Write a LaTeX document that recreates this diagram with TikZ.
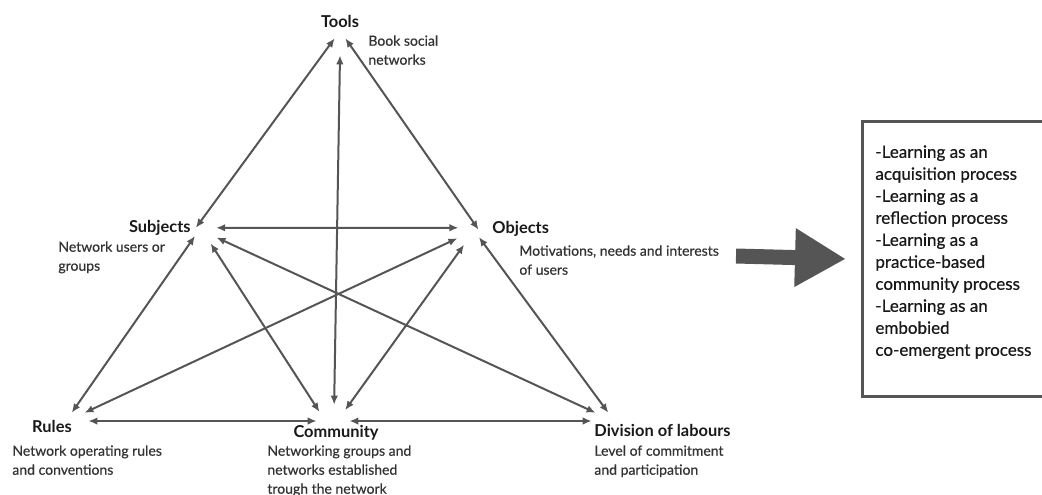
\documentclass[tikz,border=0pt]{standalone}
\usepackage{fontspec}
\setmainfont{Lato}
\newfontfamily\mediumfont{Lato}[FakeBold=0.6]
\usetikzlibrary{arrows.meta,positioning}
\definecolor{linkgray}{HTML}{555555}
\definecolor{notegray}{HTML}{333333}

\begin{document}
\begin{tikzpicture}[
    x=0.5pt, y=-0.5pt,
    hub/.style={circle, inner sep=0pt, minimum size=#1},
    title/.style={inner sep=0pt, font=\fontsize{8.2}{10}\selectfont\bfseries, text=black!90},
    note/.style={inner sep=0pt, anchor=north west, align=left, font=\fontsize{7}{9.5}\selectfont\mediumfont, text=notegray},
    connector/.style={{Latex[length=4.5pt,width=3.8pt]}-{Latex[length=4.5pt,width=3.8pt]}, line width=1pt, linkgray},
    push/.style={-{Triangle[length=25pt,width=29.5pt,line width=0pt]}, line width=7.5pt, linkgray},
    listbox/.style={inner sep=0pt, anchor=north west, minimum width=100pt, minimum height=137.5pt},
    frame/.style={draw=linkgray, line width=1.5pt},
    listtext/.style={inner sep=0pt, anchor=north west, align=left, font=\fontsize{8.5}{11}\selectfont\mediumfont, text=black!90}
  ]
    \useasboundingbox (0,0) rectangle (1042,494);

    % Vertices of the triangle
    \node[hub=9pt] (tools) at (340,46) {};
    \node[hub=11pt] (subjects) at (206,233) {};
    \node[hub=11pt] (objects) at (468,234) {};
    \node[hub=10pt] (rules) at (78,421) {};
    \node[hub=16pt] (community) at (333,421) {};
    \node[hub=10pt] (division) at (602,421) {};

    % Titles
    \node[title, anchor=base] (toolsLabel) at (340,27) {Tools};
    \node[title, anchor=base east] (subjectsLabel) at (191,232) {Subjects};
    \node[title, anchor=base west] (objectsLabel) at (492,233) {Objects};
    \node[title, anchor=base] (rulesLabel) at (52,432) {Rules};
    \node[title, anchor=base] (communityLabel) at (336,437) {Community};
    \node[title, anchor=base west] (divisionLabel) at (594,436) {Division of labours};

    % Descriptions
    \node[note] (toolsNote) at (368,35) {Book social\\networks};
    \node[note] (subjectsNote) at (58,241) {Network users or\\groups};
    \node[note] (objectsNote) at (519,245) {Motivations, needs and interests\\of users};
    \node[note] (rulesNote) at (12,445) {Network operating rules\\and conventions};
    \node[note] (communityNote) at (267,445) {Networking groups and\\networks established\\trough the network};
    \node[note] (divisionNote) at (594,445) {Level of commitment\\and participation};

    % Learning box (runs off the right edge)
    \node[listbox] (outcomeBox) at (862,121) {};
    \draw[frame] (outcomeBox.north east) -- (outcomeBox.north west) -- (outcomeBox.south west) -- (outcomeBox.south east);
    \node[listtext] (outcomeList) at (875,145) {-Learning as an\\acquisition process\\-Learning as a\\reflection process\\-Learning as a\\practice-based\\community process\\-Learning as an\\embobied\\co-emergent process};

    % Connectors
    \draw[connector] (tools.125) -- (subjects.153);
    \draw[connector] (tools.55) -- (objects.22);
    \draw[connector] (tools.-90) -- (community.86);
    \draw[connector] (subjects.27) -- (objects.147);
    \draw[connector] (subjects.195) -- (rules.127);
    \draw[connector] (subjects.-66) -- (community.146);
    \draw[connector] (subjects.-23) -- (division.128);
    \draw[connector] (objects.202) -- (rules.52);
    \draw[connector] (objects.-110) -- (community.42);
    \draw[connector] (objects.-16) -- (division.53);
    \draw[connector] (rules.0) -- (community.180);
    \draw[connector] (community.0) -- (division.180);

    \coordinate (pushFrom) at (736,256);
    \draw[push] (pushFrom) -- ([xshift=-8.5pt]outcomeBox.west);
\end{tikzpicture}
\end{document}
